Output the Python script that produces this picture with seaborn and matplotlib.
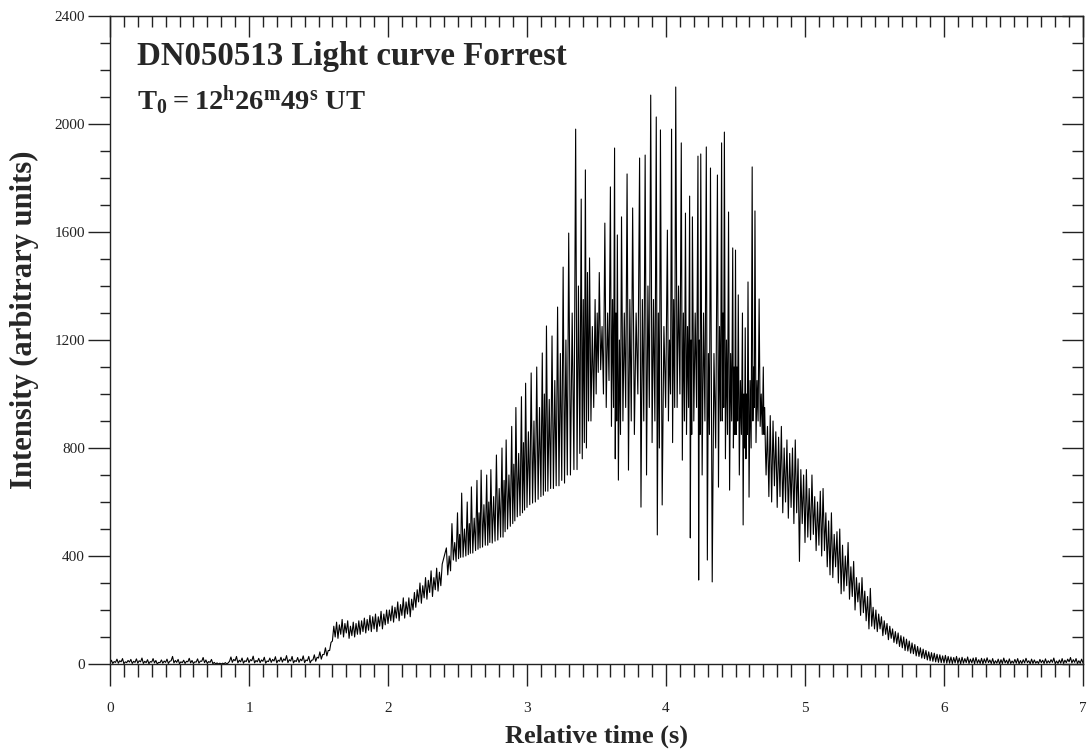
import numpy as np
import pandas as pd
import matplotlib
matplotlib.use("Agg")
import matplotlib.pyplot as plt
from matplotlib.ticker import MultipleLocator
import seaborn as sns

# --- data ----------------------------------------------------------------
dt = 0.02

# quiet part and slow rise: lower / upper edge of the noisy trace,
# one pair every 0.02 s from t = 0 (upper edge half a step later)
rise_start = 0.0
rise_lo = [
    4, 2, 6, 3, 8, 1, 5, 7, 2, 6,
    3, 8, 2, 5, 1, 7, 4, 0, 5, 3,
    6, 2, 12, 4, 6, 1, 5, 2, 8, 4,
    2, 7, 3, 10, 5, 2, 6, 1, 0, 0,
    0, 1, 0, 10, 6, 12, 4, 8, 3, 9,
    5, 12, 4, 8, 5, 10, 3, 9, 6, 11,
    4, 10, 7, 13, 5, 11, 4, 9, 6, 12,
    5, 12, 4, 15, 10, 22, 18, 35, 30, 50,
    85, 100, 95, 110, 100, 115, 95, 105, 100, 110,
    110, 120, 115, 125, 120, 130, 120, 140, 130, 145,
    150, 160, 155, 170, 160, 180, 170, 185, 175, 200,
    210, 230, 225, 245, 240, 265, 250, 275, 270, 290,
]
rise_hi = [
    14, 9, 18, 12, 20, 8, 13, 17, 10, 19,
    12, 22, 10, 16, 9, 20, 13, 6, 15, 11,
    18, 10, 28, 13, 17, 8, 14, 10, 21, 13,
    8, 19, 11, 24, 15, 9, 17, 6, 4, 3,
    3, 5, 4, 26, 17, 28, 14, 22, 12, 23,
    16, 29, 13, 21, 15, 25, 11, 22, 17, 27,
    14, 25, 19, 31, 16, 28, 13, 24, 18, 30,
    15, 28, 14, 34, 25, 45, 35, 60, 50, 80,
    140, 155, 145, 165, 150, 160, 140, 155, 150, 160,
    160, 170, 165, 180, 175, 185, 175, 195, 185, 200,
    200, 215, 210, 230, 220, 245, 230, 245, 240, 265,
    275, 300, 290, 320, 310, 345, 320, 355, 340, 370,
]

# flicker part: spike times, spike tops, the dip after each spike,
# and the smaller secondary wiggle (top / bottom) before the next spike
peak_t = [
    2.42, 2.46, 2.50, 2.53, 2.57, 2.60, 2.64, 2.67, 2.71, 2.74,
    2.78, 2.82, 2.85, 2.89, 2.92, 2.96, 2.99, 3.03, 3.07, 3.11,
    3.14, 3.18, 3.22, 3.26, 3.30, 3.35, 3.39, 3.42, 3.45, 3.49,
    3.52, 3.56, 3.60, 3.63, 3.65, 3.68, 3.72, 3.76, 3.81, 3.85,
    3.89, 3.93, 3.96, 4.01, 4.04, 4.07, 4.11, 4.14, 4.17, 4.19,
    4.23, 4.25, 4.29, 4.32, 4.37, 4.40, 4.42, 4.45, 4.48, 4.50,
    4.52, 4.55, 4.57, 4.59, 4.62, 4.64, 4.67, 4.70,
]
peak_v = [
    430, 520, 560, 633, 600, 656, 680, 718, 700, 720,
    774, 800, 830, 880, 950, 990, 1040, 1078, 1100, 1152,
    1252, 1215, 1322, 1470, 1596, 1981, 1722, 1830, 1504, 1350,
    1450, 1633, 1767, 1911, 1589, 1656, 1815, 1689, 1874, 1885,
    2107, 2026, 1978, 1607, 1981, 2137, 1930, 1670, 1733, 1656,
    1881, 1889, 1915, 1837, 1811, 1930, 1970, 1674, 1541, 1533,
    1367, 1300, 1245, 1415, 1841, 1678, 1352, 1100,
]
trough_v = [
    330, 385, 390, 396, 405, 411, 425, 433, 440, 448,
    459, 470, 500, 520, 545, 560, 580, 596, 610, 625,
    640, 650, 660, 670, 700, 720, 760, 800, 900, 1000,
    1090, 950, 880, 760, 681, 900, 718, 850, 581, 700,
    820, 478, 589, 900, 820, 950, 755, 850, 467, 900,
    311, 700, 385, 304, 655, 900, 760, 644, 800, 850,
    700, 515, 760, 618, 900, 820, 880, 850,
]
wiggle_top = [
    400, 450, 480, 500, 520, 540, 560, 590, 600, 620,
    650, 680, 700, 740, 780, 820, 860, 900, 950, 1000,
    980, 1050, 1150, 1200, 1300, 1400, 1350, 1450, 1250, 1300,
    1250, 1300, 1350, 1300, 1200, 1300, 1350, 1300, 1350, 1400,
    1350, 1300, 1250, 1200, 1350, 1400, 1300, 1250, 1200, 1300,
    1200, 1300, 1150, 1150, 1250, 1300, 1200, 1150, 1100, 1100,
    1050, 1000, 1000, 1050, 1100, 1050, 1000, 950,
]
wiggle_low = [
    345, 380, 395, 400, 410, 420, 430, 440, 450, 455,
    470, 490, 510, 530, 550, 570, 590, 600, 620, 640,
    650, 660, 680, 700, 720, 780, 820, 900, 950, 1080,
    1000, 1050, 950, 900, 850, 950, 900, 1000, 900, 950,
    900, 800, 950, 1000, 950, 1000, 900, 950, 850, 950,
    850, 900, 850, 800, 900, 950, 850, 900, 850, 900,
    850, 800, 850, 800, 950, 900, 850, 800,
]

# decay: lower / upper edge every 0.02 s from t = 4.72
decay_start = 4.72
decay_lo = [
    700, 620, 600, 660, 580, 620, 560, 600, 540, 580,
    520, 560, 380, 520, 450, 470, 460, 480, 420, 440,
    400, 420, 360, 330, 320, 360, 300, 260, 270, 290,
    240, 250, 200, 230, 180, 190, 160, 130, 140, 130,
    120, 130, 105, 110, 90, 95, 80, 75, 65, 60,
    50, 48, 40, 38, 30, 28, 22, 20, 15, 12,
    10, 8, 6, 5, 4, 3, 3, 2, 4, 2,
    1, 3, 5, 2, 4, 1, 3, 2, 1, 4,
    5, 2, 1, 3, 0, 2, 4, 1, 2, 3,
    3, 1, 2, 4, 5, 1, 2, 3, 2, 5,
    2, 3, 4, 6, 1, 2, 3, 2, 5, 8,
    4, 6, 2, 3, 4,
]
decay_hi = [
    880, 920, 900, 860, 840, 880, 800, 830, 780, 800,
    830, 760, 720, 700, 720, 650, 700, 620, 600, 640,
    650, 560, 530, 560, 480, 490, 500, 440, 400, 450,
    360, 380, 320, 300, 320, 270, 250, 280, 210, 200,
    185, 175, 160, 150, 140, 130, 120, 115, 105, 100,
    92, 85, 78, 72, 65, 60, 55, 50, 45, 42,
    40, 36, 34, 30, 32, 28, 26, 24, 28, 22,
    25, 20, 26, 18, 22, 24, 16, 21, 19, 23,
    15, 20, 12, 18, 16, 22, 14, 19, 11, 17,
    20, 13, 16, 21, 12, 18, 15, 10, 17, 14,
    19, 12, 16, 22, 11, 15, 20, 14, 18, 24,
    16, 20, 12, 18, 15,
]

title = "DN050513 Light curve Forrest"
subtitle = r"$\mathbf{T_0 = 12^h26^m49^s}$ UT"


# --- assemble one time series --------------------------------------------
def band(start, lo, hi):
    t_lo = start + dt * np.arange(len(lo))
    t = np.column_stack([t_lo, t_lo + dt / 2]).ravel()
    v = np.column_stack([lo, hi]).ravel()
    return t, v


t_rise, v_rise = band(rise_start, rise_lo, rise_hi)
t_decay, v_decay = band(decay_start, decay_lo, decay_hi)

pk = np.array(peak_t)
gap = np.append(np.diff(pk), 0.02)
t_flick = np.column_stack([pk, pk + gap / 4, pk + gap / 2, pk + 3 * gap / 4]).ravel()
v_flick = np.column_stack([peak_v, trough_v, wiggle_top, wiggle_low]).ravel()

df = pd.DataFrame({
    "t": np.concatenate([t_rise, t_flick, t_decay]),
    "v": np.concatenate([v_rise, v_flick, v_decay]),
})

# --- plot ----------------------------------------------------------------
sns.set_style("ticks")
plt.rcParams["font.family"] = ["Liberation Serif", "DejaVu Serif"]
plt.rcParams["mathtext.fontset"] = "custom"
plt.rcParams["mathtext.bf"] = "Liberation Serif:bold"
plt.rcParams["mathtext.rm"] = "Liberation Serif"

fig = plt.figure(figsize=(10.87, 7.49), dpi=100)
ax = fig.add_axes([110 / 1087, 85 / 749, 973 / 1087, 648 / 749])

sns.lineplot(data=df, x="t", y="v", ax=ax, color="black", linewidth=0.8,
             estimator=None, sort=False)

ax.set_xlim(0, 7)
ax.set_ylim(0, 2400)
ax.xaxis.set_major_locator(MultipleLocator(1))
ax.xaxis.set_minor_locator(MultipleLocator(0.1))
ax.yaxis.set_major_locator(MultipleLocator(400))
ax.yaxis.set_minor_locator(MultipleLocator(100))

for s in ax.spines.values():
    s.set_color("#222222")
    s.set_linewidth(1.0)

tick_col = "#222222"
ax.tick_params(axis="x", which="major", direction="out", length=16, width=1,
               color=tick_col, labelsize=11, labelcolor=tick_col, pad=11)
ax.tick_params(axis="x", which="minor", direction="out", length=9, width=1,
               color=tick_col)
ax.tick_params(axis="y", which="major", direction="out", length=16, width=1,
               color=tick_col, labelsize=11, labelcolor=tick_col, pad=2)
ax.tick_params(axis="y", which="minor", direction="out", length=7, width=1,
               color=tick_col)

# top and right: inward ticks, no labels
secx = ax.secondary_xaxis("top")
secx.xaxis.set_major_locator(MultipleLocator(1))
secx.xaxis.set_minor_locator(MultipleLocator(0.1))
secx.tick_params(which="major", direction="in", length=15, width=1,
                 color=tick_col, labeltop=False)
secx.tick_params(which="minor", direction="in", length=8, width=1,
                 color=tick_col)
secy = ax.secondary_yaxis("right")
secy.yaxis.set_major_locator(MultipleLocator(400))
secy.yaxis.set_minor_locator(MultipleLocator(100))
secy.tick_params(which="major", direction="in", length=15, width=1,
                 color=tick_col, labelright=False)
secy.tick_params(which="minor", direction="in", length=8, width=1,
                 color=tick_col)

ax.set_xlabel("Relative time (s)", fontsize=19, fontweight="bold", labelpad=7)
ax.set_ylabel("Intensity (arbitrary units)", fontsize=22, fontweight="bold")
ax.yaxis.set_label_coords(-0.073, 0.532)

ax.text(0.028, 0.937, title, transform=ax.transAxes, fontsize=23.7,
        fontweight="bold", va="center", ha="left")
ax.text(0.028, 0.870, subtitle, transform=ax.transAxes, fontsize=20.5,
        fontweight="bold", va="center", ha="left")

fig.savefig("out.png", dpi=100)
